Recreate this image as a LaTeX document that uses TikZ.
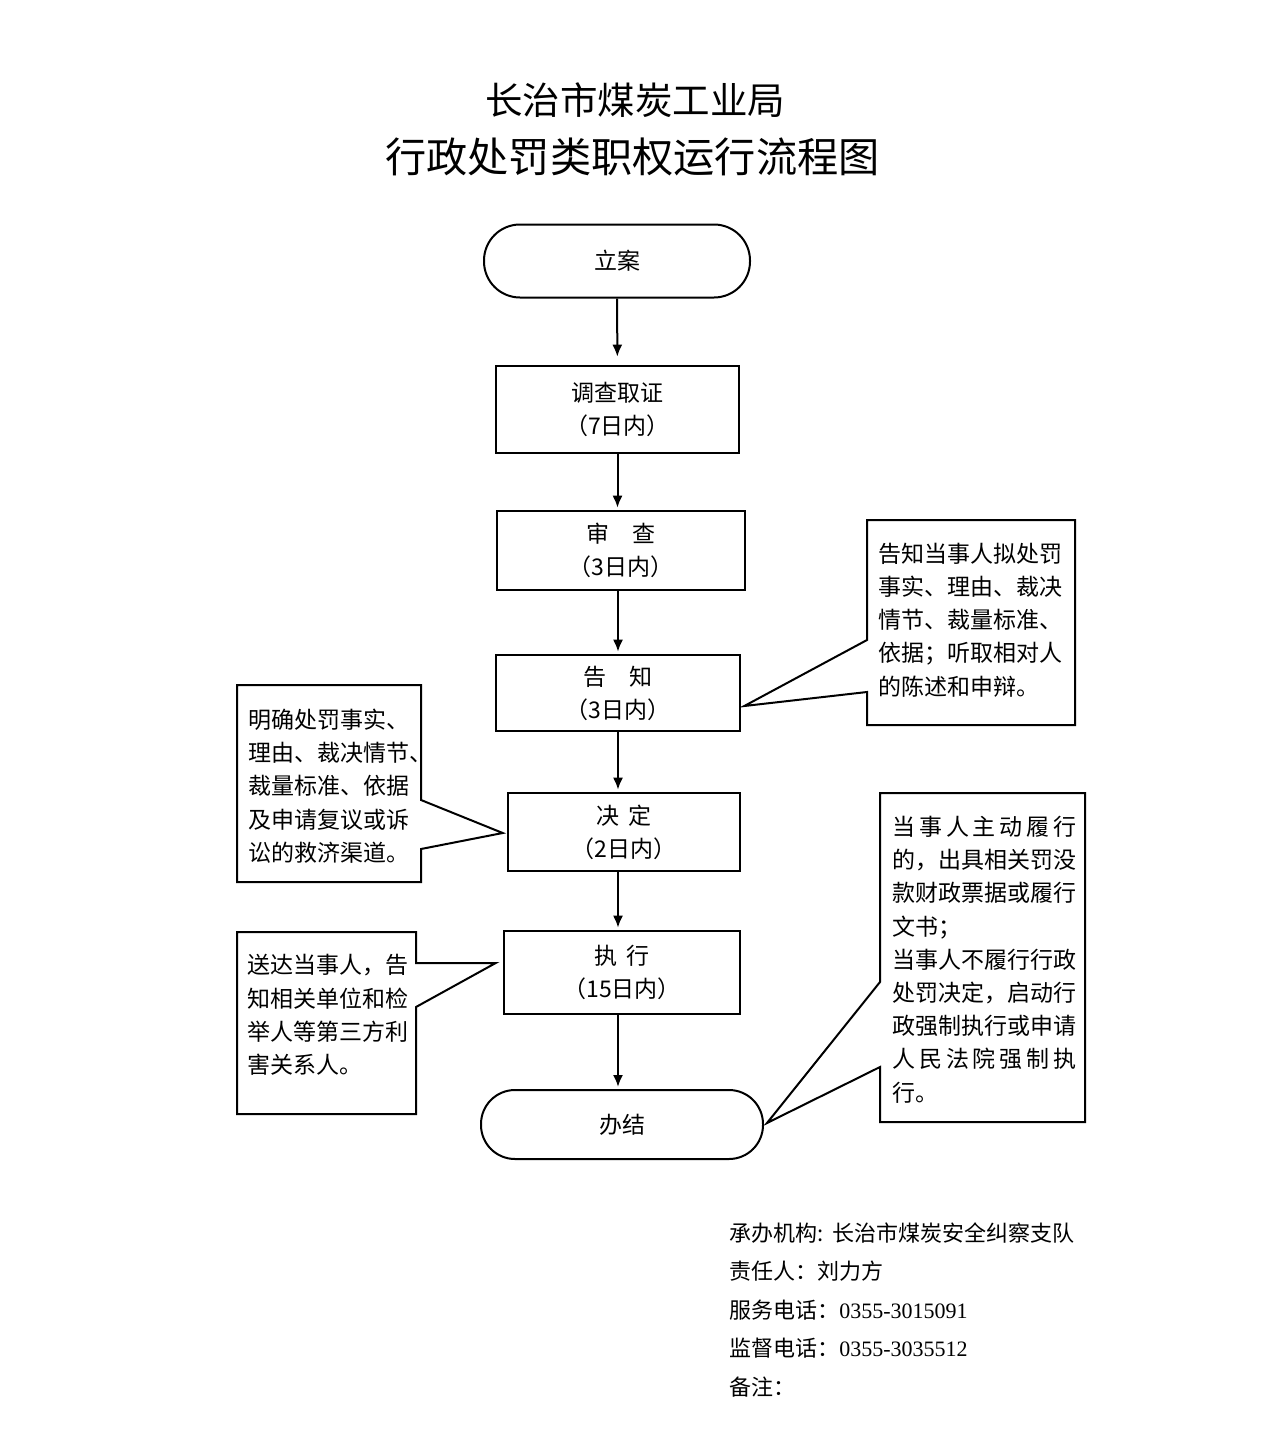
\documentclass[tikz,border=0pt]{standalone}
\usepackage{fontspec}
\setmainfont{Noto Sans CJK SC}
\newfontfamily\numfont{Liberation Serif}
\usetikzlibrary{arrows.meta}

\begin{document}
\begin{tikzpicture}[
    x=0.5pt, y=-0.5pt,
    stepbox/.style={draw, line width=1.3pt, inner sep=0pt, align=center, font=\fontsize{11.5}{16.5}\selectfont},
    endbox/.style={draw, line width=1pt, inner sep=0pt, font=\fontsize{11.5}{16.5}\selectfont},
    notetext/.style={anchor=west, inner sep=0pt, align=left, text width=92pt, font=\fontsize{11.5}{16.6}\selectfont},
    notebox/.style={line width=1pt, line join=miter},
    arr/.style={-{Latex[length=6pt,width=5pt]}, line width=1pt, shorten >=1pt},
]
    \path[use as bounding box, fill=white] (0,0) rectangle (1266,1451);

    % Title
    \node[font=\fontsize{18.75}{20}\selectfont] (t1) at (635,100) {长治市煤炭工业局};
    \node[font=\fontsize{20.6}{22}\selectfont] (t2) at (632.5,157) {行政处罚类职权运行流程图};

    % Main flow
    \node[endbox, minimum width=133pt, minimum height=36.5pt, rounded corners=18pt] (la) at (617,261) {立案};
    \node[stepbox, minimum width=121.5pt, minimum height=43.5pt] (dc) at (617.5,409.5) {调查取证\\（7日内）};
    \node[stepbox, minimum width=124pt, minimum height=39.5pt] (sc) at (621,550.5) {审　查\\（3日内）};
    \node[stepbox, minimum width=122pt, minimum height=38pt] (gz) at (618,693) {告　知\\（3日内）};
    \node[stepbox, minimum width=116pt, minimum height=39pt] (jd) at (624,832) {决\hspace{0.35em}定\\（2日内）};
    \node[stepbox, minimum width=118pt, minimum height=41.5pt] (zx) at (622,972.5) {执\hspace{0.35em}行\\（15日内）};
    \node[endbox, minimum width=141pt, minimum height=34.5pt, rounded corners=17pt] (bj) at (622,1124.5) {办结};

    \draw[arr, shorten >=4pt] (la) -- (dc);
    \draw[arr] (dc) -- (dc |- sc.north);
    \draw[arr] (gz |- sc.south) -- (gz);
    \draw[arr] (gz) -- (gz |- jd.north);
    \draw[arr] (gz |- jd.south) -- (gz |- zx.north);
    \draw[arr] (gz |- zx.south) -- (gz |- bj.north);

    % Callout tips
    \coordinate (gztip) at ([shift={(3,13)}]gz.east);
    \coordinate (jdtip) at ([shift={(-4,1)}]jd.west);
    \coordinate (zxtip) at ([shift={(-7,-9.5)}]zx.west);
    \coordinate (bjtip) at ([shift={(3,-1.5)}]bj.east);

    % Callouts
    \draw[notebox] (867,520) -- (1075,520) -- (1075,725) -- (867,725) -- (867,692) -- (gztip) -- (867,640) -- cycle;
    \node[notetext] (gzt) at (878,620) {告知当事人拟处罚\\事实、理由、裁决\\情节、裁量标准、\\依据；听取相对人\\的陈述和申辩。};

    \draw[notebox] (237,685) -- (421,685) -- (421,800) -- (jdtip) -- (421,849) -- (421,882) -- (237,882) -- cycle;
    \node[notetext] (jdt) at (248,786) {明确处罚事实、\\理由、裁决情节、\\裁量标准、依据\\及申请复议或诉\\讼的救济渠道。};

    \draw[notebox] (237,932) -- (416,932) -- (416,963) -- (zxtip) -- (416,1007) -- (416,1114) -- (237,1114) -- cycle;
    \node[notetext] (zxt) at (247,1015) {送达当事人，告\\知相关单位和检\\举人等第三方利\\害关系人。};

    \draw[notebox] (880,793) -- (1085,793) -- (1085,1122) -- (880,1122) -- (880,1067) -- (bjtip) -- (880,982) -- cycle;
    \node[notetext] (bjt) at (892,959.5) {\makebox[92pt][s]{当\hfill 事\hfill 人\hfill 主\hfill 动\hfill 履\hfill 行}\\的，出具相关罚没\\款财政票据或履行\\文书；\\当事人不履行行政\\处罚决定，启动行\\政强制执行或申请\\\makebox[92pt][s]{人\hfill 民\hfill 法\hfill 院\hfill 强\hfill 制\hfill 执}\\行。};

    % Footer
    \node[anchor=west, align=left, inner sep=0pt, font=\fontsize{11}{19.25}\selectfont] (info) at (729,1310) {承办机构:\hspace{0.4em}长治市煤炭安全纠察支队\\责任人：刘力方\\服务电话：{\numfont 0355-3015091}\\监督电话：{\numfont 0355-3035512}\\备注：};
\end{tikzpicture}
\end{document}
